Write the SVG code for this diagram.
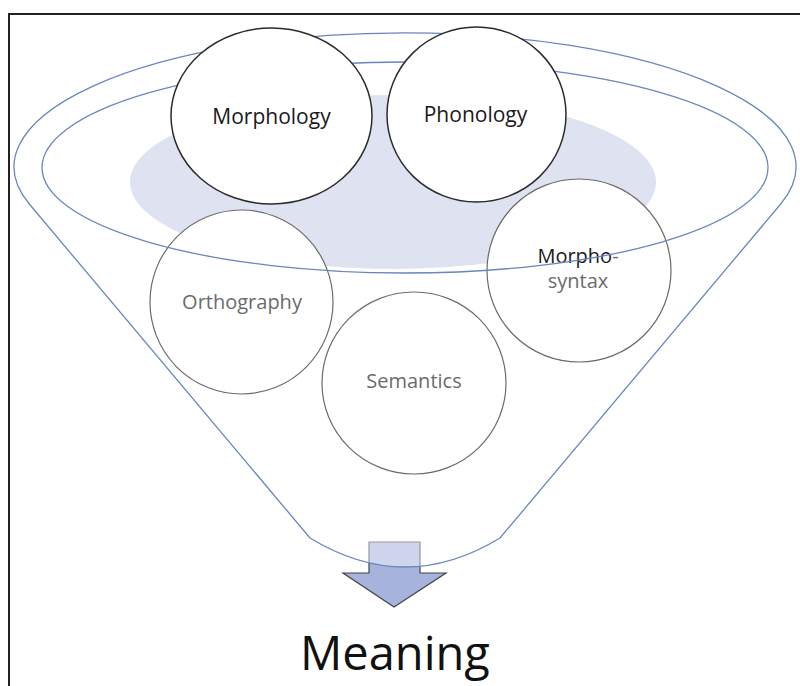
<svg xmlns="http://www.w3.org/2000/svg" width="800" height="686" viewBox="0 0 800 686">
  <style>
    .funnel { stroke: #6a86bd; stroke-width: 1.3; }
    .node-top ellipse { fill: #ffffff; stroke: #2b2b2b; stroke-width: 1.5; }
    .node-low ellipse { fill: #ffffff; stroke: #6b6b6b; stroke-width: 1.2; }
    text { font-family: "Open Sans", "Liberation Sans", sans-serif; text-anchor: middle; }
    .dark { fill: #1a1a1a; font-size: 21px; }
    .grey { fill: #6b6b6b; font-size: 20px; }
  </style>

  <rect width="800" height="686" fill="#ffffff"/>
  <!-- frame: left and top edges only -->
  <path d="M9,686 V14 H800" fill="none" stroke="#222222" stroke-width="2"/>

  <!-- output arrow, sitting behind the funnel body -->
  <g id="arrow">
    <polygon points="369,542 420,542 420,573 446,573 394,607 343,573 369,573" fill="#a6b3dc" stroke="#454545" stroke-width="1.2"/>
  </g>

  <!-- funnel body with translucent fill; side walls leave the rim tangentially -->
  <g id="funnel">
    <path class="funnel" d="M29.3,204 A391,134 0 1 1 780.7,204 L500,538 Q405,596 310,538 Z" fill="#ffffff" fill-opacity="0.45"/>
    <ellipse cx="393" cy="182" rx="263" ry="87" fill="#dfe2f0"/>
  </g>

  <!-- lower nodes -->
  <g id="node-orthography" class="node-low">
    <ellipse cx="241.5" cy="302" rx="91.5" ry="92"/>
    <text class="grey" x="242" y="309">Orthography</text>
  </g>
  <g id="node-semantics" class="node-low">
    <ellipse cx="414" cy="383" rx="92" ry="91"/>
    <text class="grey" x="414" y="388">Semantics</text>
  </g>
  <g id="node-morphosyntax" class="node-low">
    <ellipse cx="579" cy="270.5" rx="92" ry="91.5"/>
    <text class="grey" x="578" y="263"><tspan fill="#1a1a1a">Morpho</tspan>-</text>
    <text class="grey" x="578" y="288">syntax</text>
  </g>

  <!-- inner rim of the funnel mouth -->
  <g id="funnel-rim">
    <ellipse class="funnel" cx="405" cy="167.5" rx="363" ry="105.5" fill="none"/>
  </g>

  <!-- upper nodes -->
  <g id="node-morphology" class="node-top">
    <ellipse cx="271.5" cy="116" rx="100.5" ry="88"/>
    <text class="dark" x="271.5" y="124">Morphology</text>
  </g>
  <g id="node-phonology" class="node-top">
    <ellipse cx="476.5" cy="114.5" rx="89.5" ry="87.5"/>
    <text class="dark" x="475.5" y="122">Phonology</text>
  </g>

  <g id="label-meaning">
    <text x="395" y="670" font-size="47" fill="#111111">Meaning</text>
  </g>
</svg>
